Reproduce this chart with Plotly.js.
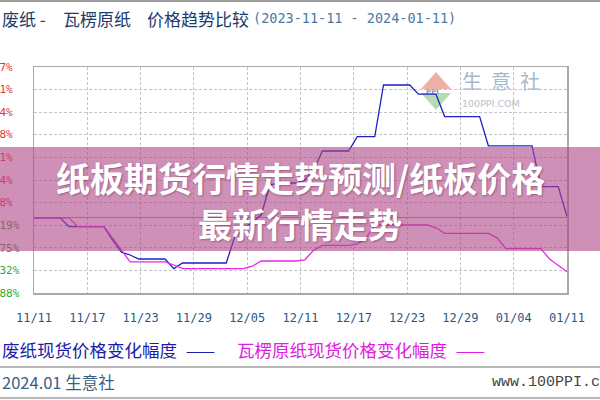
<!DOCTYPE html>
<html>
<head>
<meta charset="utf-8">
<script src="https://cdn.plot.ly/plotly-3.0.1.min.js"></script>
<style>
html,body{margin:0;padding:0;background:#fff;}
#chart{width:600px;height:400px;}
</style>
</head>
<body>
<div id="chart"></div>
<script>
// ---- data (percent change, daily, 2023-11-11 .. 2024-01-11) ----
const startDate = '2023-11-11';
const endDate = '2024-01-11';
const wasteName = '废纸现货价格变化幅度';
const corrName = '瓦楞原纸现货价格变化幅度';
const wasteChange = [0,0,0,0,-0.22,-0.22,-0.22,-0.22,-0.22,-0.56,-0.86,-0.93,-1.03,-1.03,-1.03,-1.03,-1.27,-1.13,-1.13,-1.13,-1.13,-1.13,-1.13,-0.46,-0.28,-0.11,0.07,0.82,0.87,0.87,0.87,0.94,1.19,1.67,1.67,1.67,1.67,2.03,2.03,2.03,3.32,3.32,3.32,3.32,3.09,3.09,3.09,2.53,2.53,2.53,2.53,2.53,1.80,1.80,1.80,1.80,1.80,1.80,0.78,0.78,0.78,0.03];
const corrChange = [0,0,0,0,0,-0.22,-0.22,-0.22,-0.22,-0.51,-0.81,-1.10,-1.10,-1.10,-1.10,-1.10,-1.18,-1.27,-1.27,-1.27,-1.27,-1.27,-1.27,-1.27,-1.27,-1.21,-1.08,-1.08,-1.08,-1.08,-1.08,-1.05,-0.81,-0.69,-0.69,-0.69,-0.69,-0.66,-0.51,-0.18,-0.18,-0.18,-0.18,-0.18,-0.18,-0.18,-0.25,-0.39,-0.39,-0.39,-0.39,-0.39,-0.39,-0.50,-0.77,-0.77,-0.77,-0.77,-0.77,-1.03,-1.18,-1.35];
const xTickLabels = ['11/11','11/17','11/23','11/29','12/05','12/11','12/17','12/23','12/29','01/04','01/11'];
const yTickVals = [3.77,3.21,2.64,2.08,1.51,0.94,0.38,-0.19,-0.75,-1.32,-1.88];
const yTickLabels = ['3.77%','3.21%','2.64%','2.08%','1.51%','0.94%','0.38%','-0.19%','-0.75%','-1.32%','-1.88%'];
const titleParts = ['废纸 -', '瓦楞原纸', '价格趋势比较'];
const titleDates = '(2023-11-11 - 2024-01-11)';
const bannerLine1 = '纸板期货行情走势预测/纸板价格';
const bannerLine2 = '最新行情走势';
const footerLeft = '2024.01 生意社';
const footerRight = 'www.100PPI.com';

// ---- helpers ----
function dayList(start, n){
  const p = start.split('-').map(Number);
  const t0 = Date.UTC(p[0], p[1]-1, p[2]);
  const out = [];
  for(let i=0;i<n;i++){ out.push(new Date(t0 + i*86400000).toISOString().slice(0,10)); }
  return out;
}
function isoMs(s){ const p=s.split('-').map(Number); return Date.UTC(p[0],p[1]-1,p[2]); }
const dates = dayList(startDate, wasteChange.length);
const t0 = isoMs(startDate), t1 = isoMs(endDate);
const xTickVals = xTickLabels.map((_,i)=> new Date(t0 + i*(t1-t0)/(xTickLabels.length-1)).toISOString().replace('T',' ').replace('Z',''));
const yTickText = yTickLabels.map((s,i)=>{
  const neg = yTickVals[i] < 0;
  const col = neg ? '#33a833' : '#e23434';
  return '<span style="color:'+col+'">'+s+(neg?'':'\u00a0')+'</span>';
});

const W=600,H=400,PL=34,PT=67,PW=533,PH=226;
const px = x => (x-PL)/PW;
const py = y => (PT+PH-y)/PH;

const logoSvg = "<svg xmlns='http://www.w3.org/2000/svg' width='120' height='40'>"+
 "<polygon points='15,0 30,17 0,17' fill='#f1aea6'/>"+
 "<polygon points='0,21 30,21 15,38' fill='#b4dcae'/>"+
 "<text x='5' y='22' font-family='DejaVu Sans' font-weight='bold' font-size='7' fill='#8a9ab8'>PPI</text>"+
 "<text x='41' y='17' font-family='Noto Sans CJK SC' font-size='20' letter-spacing='9' fill='#a6b9cb'>生意社</text>"+
 "<text x='41' y='35' font-family='DejaVu Sans' font-size='9.5' fill='#b5c1cd'>100PPI.COM</text>"+
 "</svg>";

const traces = [
  {x: dates, y: wasteChange, name: wasteName, type:'scatter', mode:'lines',
   line:{color:'#1f1fc8', width:1.3}},
  {x: dates, y: corrChange, name: corrName, type:'scatter', mode:'lines',
   line:{color:'#e828e8', width:1.3}}
];

function txt(x, y, text, font, anchor){
  return {xref:'paper', yref:'paper', x:px(x), y:py(y), xanchor:anchor||'left', yanchor:'middle',
          showarrow:false, text:text, font:font};
}
const titleFont = {family:'Noto Sans CJK SC', size:17, color:'#1c3c6c'};
const bannerFont = {family:'Noto Sans CJK SC', size:34, color:'#ffffff', weight:700, shadow:'1px 1px 2px rgba(90,30,70,0.45)'};

const layout = {
  width: W, height: H,
  margin: {l:PL, r:W-PL-PW, t:PT, b:H-PT-PH, pad:0},
  paper_bgcolor:'#ffffff', plot_bgcolor:'#ffffff',
  showlegend:false,
  xaxis:{
    type:'date', range:[startDate, endDate], autorange:false,
    tickmode:'array', tickvals:xTickVals, ticktext:xTickLabels,
    showgrid:true, gridcolor:'#c4c4c4', griddash:'3px,2px', gridwidth:1,
    showline:true, mirror:true, linecolor:'#a9a9a9', linewidth:1.5,
    ticks:'', tickfont:{family:'DejaVu Sans Mono', size:12, color:'#1f5a8a'},
    ticklabelstandoff:13, zeroline:false, fixedrange:true
  },
  yaxis:{
    range:[-1.88, 3.77], autorange:false,
    tickmode:'array', tickvals:yTickVals, ticktext:yTickText,
    showgrid:true, gridcolor:'#c4c4c4', griddash:'3px,2px', gridwidth:1,
    showline:true, mirror:true, linecolor:'#a9a9a9', linewidth:1.5,
    zeroline:true, zerolinecolor:'#9a9a9a', zerolinewidth:1,
    ticks:'', tickfont:{family:'DejaVu Sans Mono', size:11},
    ticklabelstandoff:11, fixedrange:true
  },
  images:[{
    source:'data:image/svg+xml;charset=utf-8,'+encodeURIComponent(logoSvg),
    xref:'paper', yref:'paper', x:px(421), y:py(72), sizex:120/PW, sizey:40/PH,
    xanchor:'left', yanchor:'top', sizing:'stretch', layer:'below', opacity:1
  }],
  shapes:[
    {type:'line', xref:'paper', yref:'paper', x0:px(0), x1:px(600), y0:py(1), y1:py(1), line:{color:'#9c9c9c', width:2}},
    {type:'line', xref:'paper', yref:'paper', x0:px(0), x1:px(600), y0:py(367), y1:py(367), line:{color:'#a0a0a0', width:1.5}},
    {type:'line', xref:'paper', yref:'paper', x0:px(0), x1:px(600), y0:py(398), y1:py(398), line:{color:'#a0a0a0', width:1.5}},
    {type:'rect', xref:'paper', yref:'paper', x0:px(0), x1:px(600), y0:py(251), y1:py(147), fillcolor:'rgba(175,70,135,0.6)', line:{width:0}, layer:'above'}
  ],
  annotations:[
    txt(0, 18, titleParts[0], titleFont),
    txt(61, 18, titleParts[1], titleFont),
    txt(145, 18, titleParts[2], titleFont),
    txt(251, 18, titleDates, {family:'DejaVu Sans Mono', size:13.5, color:'#4a7aa5'}),
    txt(0, 349, wasteName+'\u2002——', {family:'Noto Sans CJK SC', size:17.5, color:'#1c1caa'}),
    txt(235, 349, corrName+'\u2002——', {family:'Noto Sans CJK SC', size:17.5, color:'#e020e0'}),
    txt(0, 382, footerLeft, {family:'Noto Sans CJK SC', size:16.5, color:'#3a5f85'}),
    txt(490, 382, footerRight, {family:'Liberation Mono', size:15, color:'#444444'}),
    txt(300, 177, bannerLine1, bannerFont, 'center'),
    txt(300, 223, bannerLine2, bannerFont, 'center')
  ]
};

Plotly.newPlot('chart', traces, layout, {displayModeBar:false, staticPlot:true});
</script>
</body>
</html>
